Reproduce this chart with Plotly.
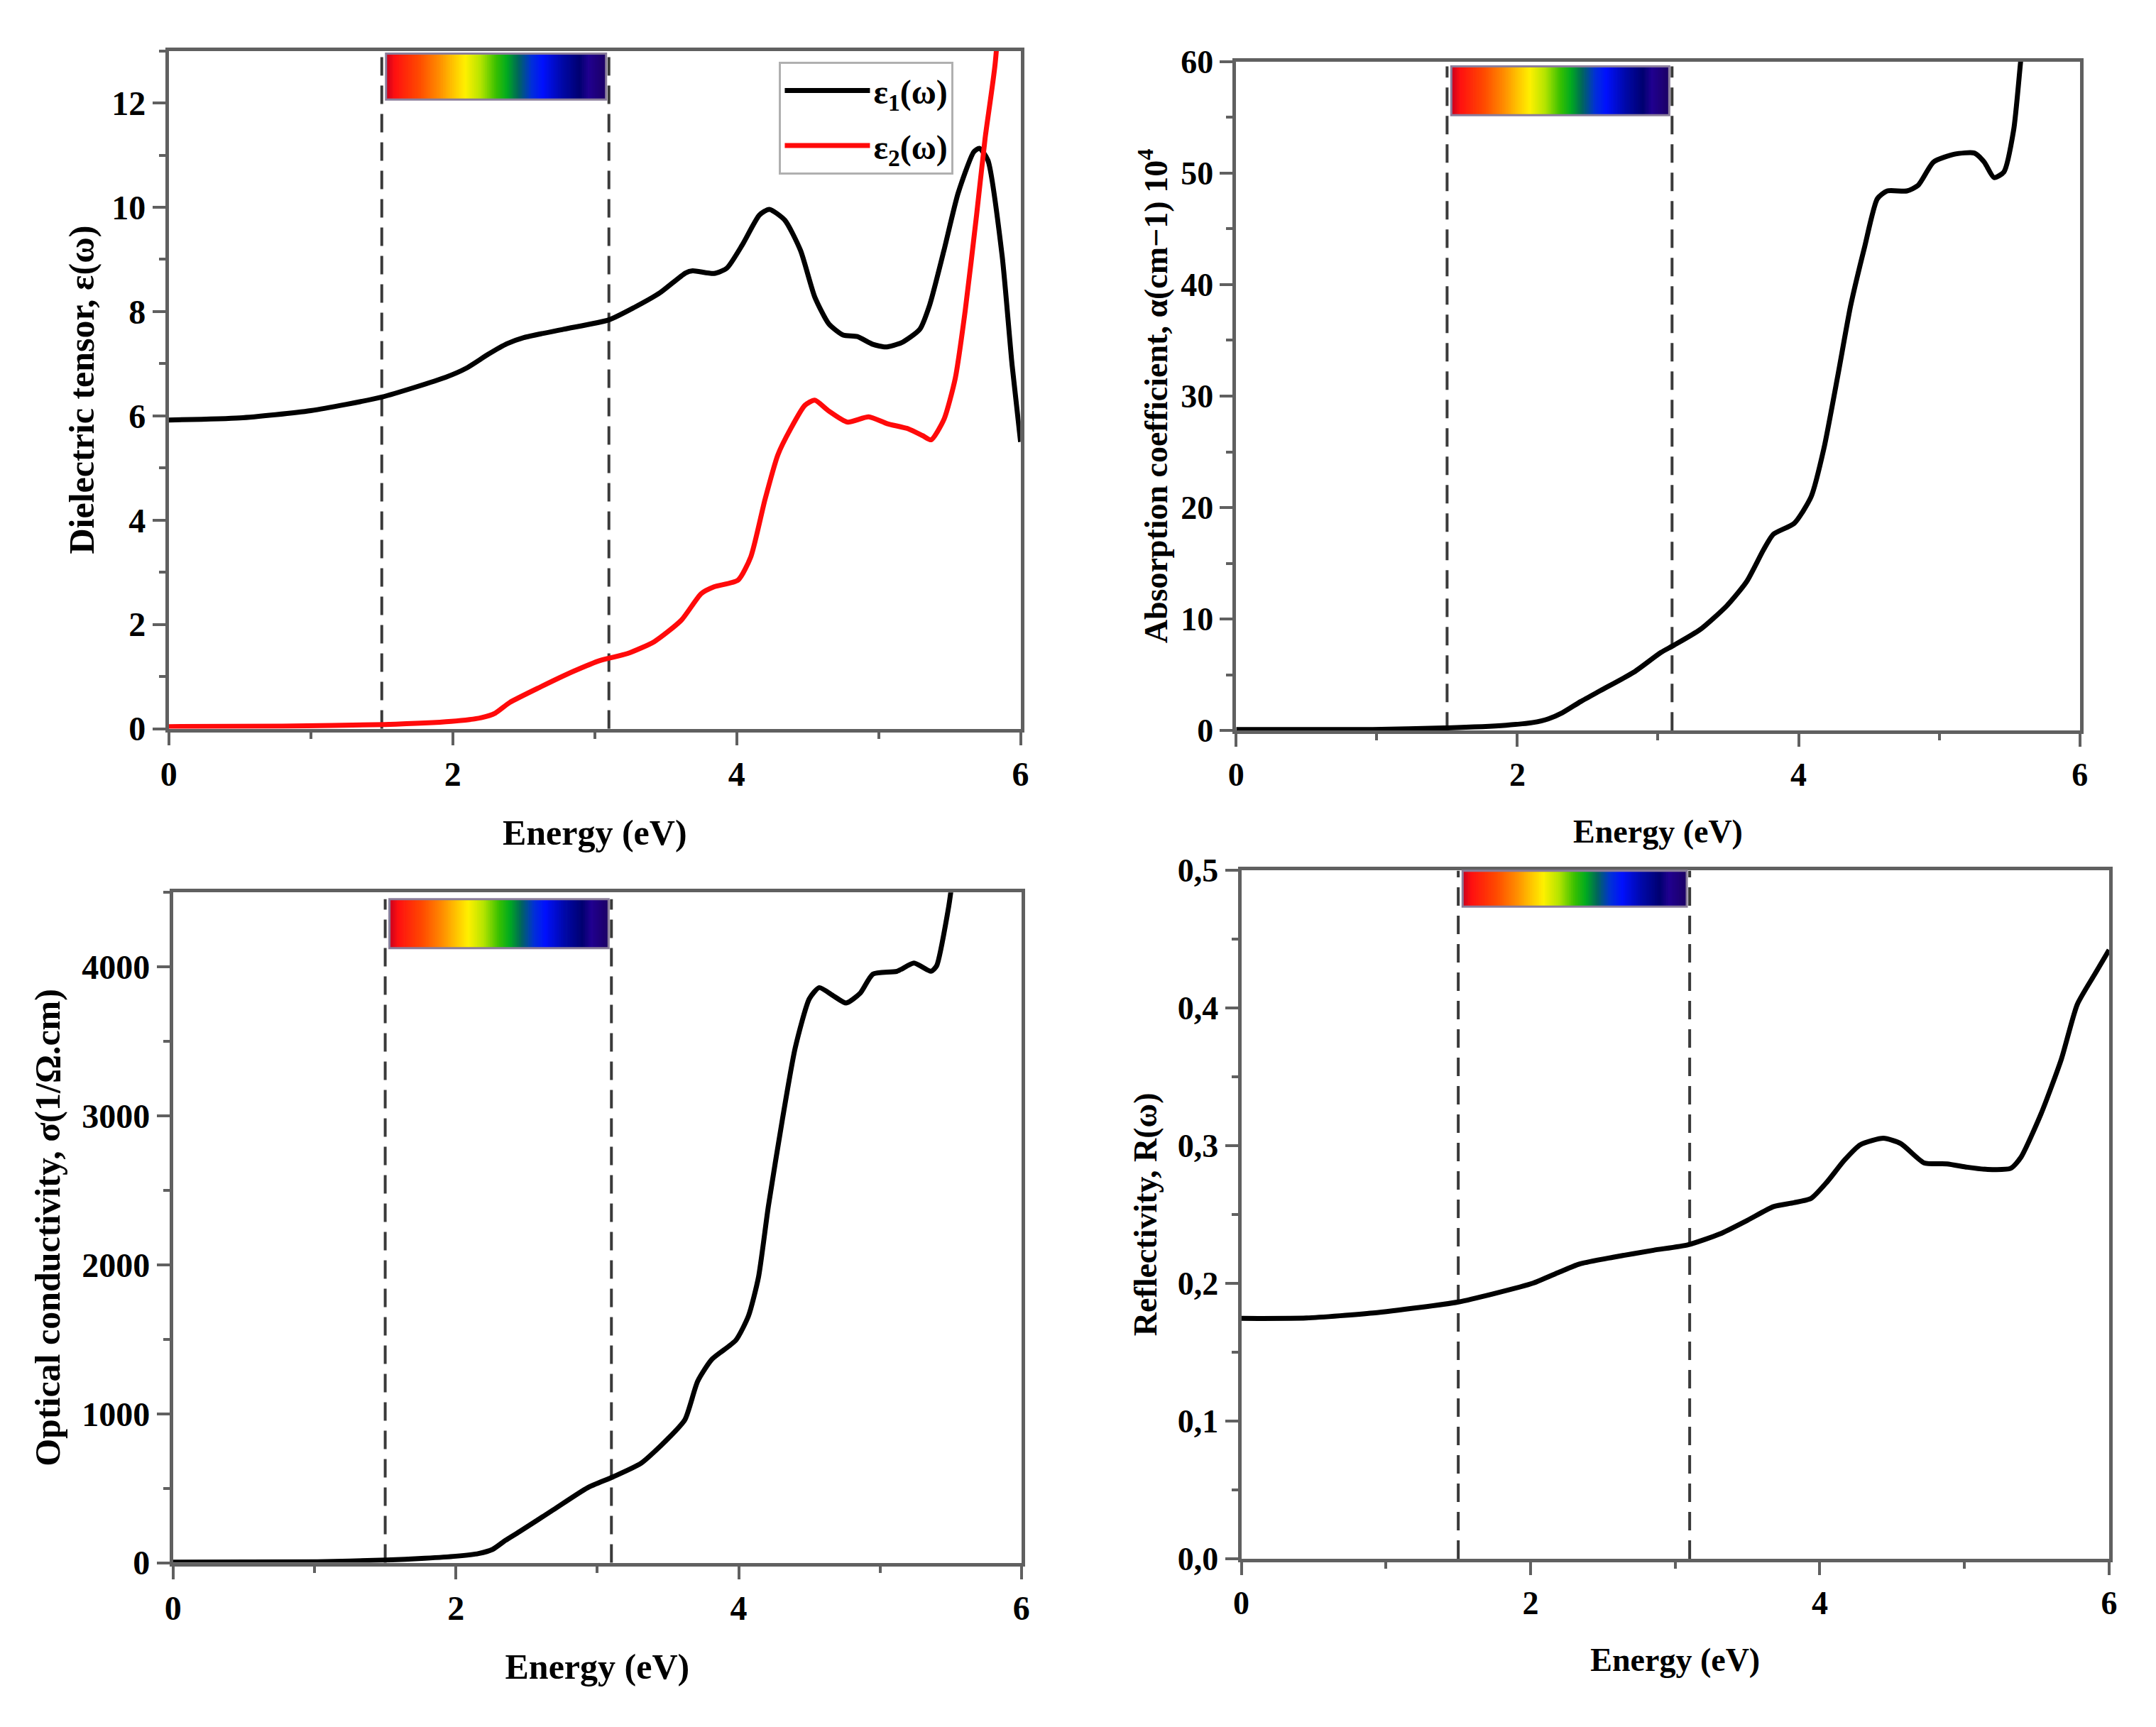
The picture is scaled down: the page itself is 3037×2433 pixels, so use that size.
import numpy as np
import plotly.graph_objects as go

# ---- values ----
# dielectric tensor: real part eps1 and imaginary part eps2
eps1_e = [0.0, 0.5, 1.0, 1.5, 1.95, 2.1, 2.25, 2.38, 2.5, 2.78, 3.1, 3.28, 3.46, 3.64, 3.69, 3.84, 3.93,
          4.04, 4.16, 4.23, 4.34, 4.45, 4.55, 4.65, 4.75, 4.85, 4.96, 5.05, 5.16, 5.29, 5.36, 5.46,
          5.56, 5.67, 5.71, 5.77, 5.87, 5.94, 6.0]
eps1 = [5.92, 5.96, 6.1, 6.36, 6.74, 6.92, 7.18, 7.38, 7.5, 7.66, 7.84, 8.08, 8.36, 8.74, 8.78, 8.73, 8.83,
        9.28, 9.85, 9.96, 9.75, 9.17, 8.28, 7.76, 7.55, 7.52, 7.37, 7.32, 7.4, 7.66, 8.13, 9.17,
        10.27, 11.06, 11.13, 10.9, 9.07, 6.98, 5.5]
eps2_e = [0.0, 0.8, 1.52, 1.99, 2.2, 2.3, 2.4, 2.61, 2.85, 3.04, 3.23, 3.42, 3.61, 3.75, 3.84, 4.01,
          4.1, 4.2, 4.29, 4.38, 4.48, 4.55, 4.65, 4.78, 4.93, 5.06, 5.21, 5.31, 5.37, 5.46, 5.54, 5.61,
          5.69, 5.75, 5.82, 5.9]
eps2 = [0.04, 0.05, 0.08, 0.14, 0.21, 0.3, 0.5, 0.79, 1.1, 1.31, 1.44, 1.67, 2.08, 2.59, 2.72, 2.85,
        3.3, 4.4, 5.25, 5.75, 6.2, 6.3, 6.09, 5.88, 5.98, 5.85, 5.75, 5.62, 5.54, 5.93, 6.72, 8.02,
        9.85, 11.32, 12.73, 15.5]

# absorption coefficient (x 10^4 cm^-1)
abs_e = [0.0, 0.97, 1.5, 1.92, 2.11, 2.22, 2.32, 2.45, 2.59, 2.83, 3.02, 3.11, 3.3, 3.49, 3.63, 3.75, 3.82,
         3.97, 4.09, 4.18, 4.28, 4.37, 4.47, 4.56, 4.63, 4.77, 4.85, 4.96, 5.11, 5.25, 5.32, 5.39,
         5.46, 5.53, 5.58, 5.63]
abs_v = [0.1, 0.1, 0.24, 0.48, 0.72, 1.05, 1.6, 2.6, 3.58, 5.25, 7.0, 7.63, 9.06, 11.2, 13.35, 16.2, 17.6,
         18.6, 21.0, 25.3, 31.9, 38.1, 43.4, 47.7, 48.4, 48.4, 48.9, 51.0, 51.7, 51.8, 51.0, 49.6,
         50.1, 53.9, 60.1, 66.0]

# optical conductivity (1/ohm.cm)
cond_e = [0.0, 1.02, 1.51, 1.78, 2.0, 2.16, 2.26, 2.35, 2.45, 2.69, 2.93, 3.11, 3.31, 3.5, 3.62, 3.71,
          3.81, 3.98, 4.07, 4.14, 4.21, 4.31, 4.4, 4.5, 4.57, 4.67, 4.76, 4.86, 4.95, 5.12, 5.24,
          5.36, 5.4, 5.48, 5.5, 5.54]
cond_v = [4, 7, 18, 30, 44, 62, 90, 150, 209, 356, 503, 576, 668, 833, 961, 1218,
          1365, 1494, 1659, 1916, 2393, 2980, 3457, 3787, 3861, 3806, 3758, 3824, 3952, 3971, 4026,
          3971, 4007, 4374, 4500, 4850]

# reflectivity
refl_e = [0.0, 0.45, 0.91, 1.23, 1.5, 1.74, 2.02, 2.2, 2.34, 2.57, 2.85, 3.09, 3.31, 3.5, 3.68,
          3.82, 3.94, 4.05, 4.17, 4.28, 4.44, 4.56, 4.72, 4.88, 5.02, 5.16, 5.32, 5.39, 5.53, 5.67,
          5.78, 5.9, 6.0]
refl_v = [0.1745, 0.1748, 0.1784, 0.1824, 0.1864, 0.1923, 0.2002, 0.2082, 0.2141, 0.2189, 0.224,
          0.228, 0.2359, 0.2458, 0.2557, 0.2585, 0.2617, 0.2736, 0.2894, 0.3006, 0.3053, 0.3014,
          0.2875, 0.2867, 0.2843, 0.2827, 0.2835, 0.2914, 0.3232, 0.3628, 0.4025, 0.4243, 0.4421]

visible_edges = [1.5, 3.1]    # dashed lines (eV)
visible_band = [1.53, 3.08]   # rainbow bar (eV)

FONT = "Liberation Serif"
AXCOL = "#606060"

spectrum_stops = [(0.0, "#c8001e"), (0.04, "#ff1010"), (0.15, "#ff4a00"), (0.24, "#ff8c00"),
                  (0.31, "#ffc800"), (0.36, "#fff000"), (0.43, "#b4e400"), (0.5, "#38c000"),
                  (0.55, "#00aa20"), (0.6, "#00665a"), (0.66, "#0030d8"), (0.71, "#0010ff"),
                  (0.8, "#0008a8"), (0.88, "#000070"), (0.92, "#200090"), (1.0, "#1c0064")]


def hex_rgb(h):
    return [int(h[i:i + 2], 16) for i in (1, 3, 5)]


def spectrum_color(f):
    for (f0, c0), (f1, c1) in zip(spectrum_stops[:-1], spectrum_stops[1:]):
        if f <= f1:
            t = (f - f0) / (f1 - f0) if f1 > f0 else 0
            a, b = hex_rgb(c0), hex_rgb(c1)
            return "rgb(%d,%d,%d)" % tuple(round(a[k] + (b[k] - a[k]) * t) for k in range(3))
    return spectrum_stops[-1][1]


fig = go.Figure()

panels = [
    # xaxis, yaxis, x-domain, y-domain, bar (y0, y1) in axis-domain fraction, tick size, title size, y standoff
    ("x", "y", [0.0723, 0.4705], [0.5827, 0.9838], (0.928, 0.996), 48, 50, 10),
    ("x2", "y2", [0.5713, 0.9657], [0.5816, 0.9774], (0.92, 0.993), 46, 46, 6),
    ("x3", "y3", [0.0743, 0.4709], [0.0892, 0.4858], (0.917, 0.99), 48, 50, 16),
    ("x4", "y4", [0.5737, 0.9794], [0.0916, 0.4990], (0.947, 0.999), 46, 46, 16),
]

line_w = 7
spl = dict(shape="spline", smoothing=0.6)
fig.add_trace(go.Scatter(x=eps1_e, y=eps1, mode="lines", name="ε<sub>1</sub>(ω)", legendgroup="e1",
                         line=dict(color="black", width=line_w, **spl), xaxis="x", yaxis="y"))
fig.add_trace(go.Scatter(x=eps2_e, y=eps2, mode="lines", name="ε<sub>2</sub>(ω)", legendgroup="e2",
                         line=dict(color="#ff0a0a", width=line_w, **spl), xaxis="x", yaxis="y"))
fig.add_trace(go.Scatter(x=abs_e, y=abs_v, mode="lines", showlegend=False,
                         line=dict(color="black", width=line_w, **spl), xaxis="x2", yaxis="y2"))
fig.add_trace(go.Scatter(x=cond_e, y=cond_v, mode="lines", showlegend=False,
                         line=dict(color="black", width=line_w, **spl), xaxis="x3", yaxis="y3"))
fig.add_trace(go.Scatter(x=refl_e, y=refl_v, mode="lines", showlegend=False,
                         line=dict(color="black", width=line_w, **spl), xaxis="x4", yaxis="y4"))

shapes = []
n_slices = 120
for xa, ya, _, _, (b0, b1), *_ in panels:
    for xe in visible_edges:
        shapes.append(dict(type="line", xref=xa, yref=ya + " domain", x0=xe, x1=xe, y0=0, y1=b1,
                           line=dict(color="#3a3a3a", width=4, dash="26px,14px"), layer="below"))
    edges = np.linspace(visible_band[0], visible_band[1], n_slices + 1)
    for i in range(n_slices):
        f = (i + 0.5) / n_slices
        shapes.append(dict(type="rect", xref=xa, yref=ya + " domain", x0=edges[i], x1=edges[i + 1] + 0.004,
                           y0=b0, y1=b1, fillcolor=spectrum_color(f), line=dict(width=0), layer="above"))
    shapes.append(dict(type="rect", xref=xa, yref=ya + " domain", x0=visible_band[0], x1=visible_band[1],
                       y0=b0, y1=b1, fillcolor="rgba(0,0,0,0)", line=dict(color="#8a7d9a", width=3),
                       layer="above"))


def axis(tsize, ttsize, **kw):
    d = dict(showline=True, linecolor=AXCOL, linewidth=5, mirror=True, ticks="outside",
             ticklen=18, tickwidth=4, tickcolor=AXCOL, showgrid=False, zeroline=False,
             tickfont=dict(family=FONT, size=tsize, color="black", weight="bold"),
             title_font=dict(family=FONT, size=ttsize, color="black", weight="bold"))
    d.update(kw)
    return d


def minor(step):
    return dict(dtick=step, ticks="outside", ticklen=9, tickwidth=4, tickcolor=AXCOL)


layout = dict(width=3037, height=2433, plot_bgcolor="white", paper_bgcolor="white",
              margin=dict(l=0, r=0, t=0, b=0), shapes=shapes)

y_specs = [
    dict(range=[0, 13], dtick=2, minor=minor(1), title_text="Dielectric tensor, ε(ω)"),
    dict(range=[0, 60], dtick=10, minor=minor(5), title_text="Absorption coefficient, α(cm−1) 10<sup>4</sup>"),
    dict(range=[0, 4500], dtick=1000, minor=minor(500), title_text="Optical conductivity, σ(1/Ω.cm)"),
    dict(range=[0, 0.5], tickvals=[0, 0.1, 0.2, 0.3, 0.4, 0.5],
         ticktext=["0,0", "0,1", "0,2", "0,3", "0,4", "0,5"], minor=minor(0.05),
         title_text="Reflectivity, R(ω)"),
]

for k, (xa, ya, xd, yd, _, ts, tts, stand) in enumerate(panels):
    xkey = "xaxis" if xa == "x" else "xaxis" + xa[1:]
    ykey = "yaxis" if ya == "y" else "yaxis" + ya[1:]
    layout[xkey] = axis(ts, tts, domain=xd, anchor=ya, range=[0, 6], dtick=2, minor=minor(1),
                        title=dict(text="Energy (eV)", standoff=40))
    layout[ykey] = axis(ts, tts, domain=yd, anchor=xa, title_standoff=stand, **y_specs[k])

layout["legend"] = dict(x=0.3576, y=0.9774, xanchor="left", yanchor="top", bgcolor="white",
                        bordercolor="#b0b0b0", borderwidth=3, itemwidth=120,
                        traceorder="grouped", tracegroupgap=12,
                        font=dict(family=FONT, size=48, color="black", weight="bold"))

fig.update_layout(**layout)
fig.write_html("out.html")
